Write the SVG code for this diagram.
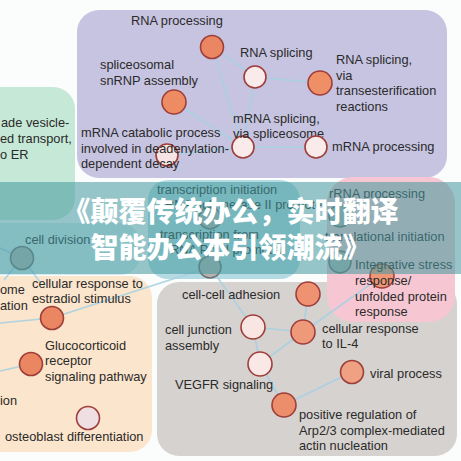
<svg xmlns="http://www.w3.org/2000/svg" width="461" height="461" viewBox="0 0 461 461">
<defs>
<style>
text{font-family:"Liberation Sans",Arial,sans-serif;font-size:12.8px;fill:#2a2a2a}
.edge{stroke:#a6d0e2;stroke-width:1.6;fill:none;opacity:0.9}
.nd{stroke:#9e3e3a;stroke-width:1.6}
.gy{fill:#b4b4b4;stroke:#727272;stroke-width:1.6}
.or{fill:#ea8662}
.sa{fill:#f0a083}
.lt{fill:#f8ebea}
.ban{font-family:"Noto Sans CJK SC","Noto Sans",sans-serif;font-size:28px;font-weight:900;fill:#ffffff}
</style>
</defs>
<rect width="461" height="461" fill="#fbfcfc"/>

<g id="clusters">
<rect id="cl-green" x="-25" y="87" width="100" height="133" rx="22" fill="#c6e8d6"/>
<rect id="cl-celldiv" x="-25" y="223" width="165" height="52" rx="20" fill="#d3eaf0"/>
<rect id="cl-purple" x="77" y="10" width="370" height="168" rx="22" fill="#c7c4e1"/>
<rect id="cl-trans" x="148" y="180" width="152" height="99" rx="20" fill="#b4dbe4"/>
<rect id="cl-peach" x="-25" y="276" width="177" height="176" rx="22" fill="#fbe5cc"/>
<rect id="cl-gray" x="157" y="282" width="300" height="174" rx="22" fill="#d6d2cf"/>
<rect id="cl-pink" x="327" y="177" width="128" height="145" rx="26" fill="#f6c7d2"/>
</g>

<g id="connectors">
<line class="edge" x1="212" y1="47" x2="255" y2="77"/>
<line class="edge" x1="255" y1="77" x2="320" y2="83"/>
<line class="edge" x1="255" y1="77" x2="243" y2="147"/>
<line class="edge" x1="243" y1="147" x2="316" y2="147"/>
<line class="edge" x1="174" y1="102" x2="243" y2="147"/>
<line class="edge" x1="167" y1="155" x2="243" y2="147"/>
<line class="edge" x1="212" y1="47" x2="243" y2="147"/>
<line class="edge" x1="0" y1="248" x2="22" y2="258"/>
<line class="edge" x1="22" y1="258" x2="4" y2="280"/>
<line class="edge" x1="22" y1="258" x2="40" y2="282"/>
<line class="edge" x1="0" y1="323" x2="52" y2="318"/>
<line class="edge" x1="52" y1="318" x2="210" y2="267"/>
<line class="edge" x1="0" y1="371" x2="31" y2="364"/>
<line class="edge" x1="210" y1="267" x2="253" y2="327"/>
<line class="edge" x1="253" y1="327" x2="260" y2="364"/>
<line class="edge" x1="253" y1="327" x2="303" y2="332"/>
<line class="edge" x1="308" y1="294" x2="303" y2="332"/>
<line class="edge" x1="260" y1="364" x2="303" y2="332"/>
<line class="edge" x1="303" y1="332" x2="382" y2="276"/>
<line class="edge" x1="260" y1="364" x2="284" y2="405"/>
<line class="edge" x1="284" y1="405" x2="352" y2="372"/>
</g>

<g id="n-rna-processing"><circle class="nd or" cx="212" cy="47" r="11.5"/><text x="131" y="25">RNA processing</text></g>
<g id="n-snrnp"><circle class="nd" cx="174" cy="102" r="12" fill="#ed8b62"/><text x="100" y="69">spliceosomal</text><text x="100" y="84.5">snRNP assembly</text></g>
<g id="n-mrna-catabolic"><circle class="nd" cx="167" cy="155" r="11" fill="#f6e3e3"/><text x="81" y="137">mRNA catabolic process</text><text x="81" y="152.5">involved in deadenylation-</text><text x="81" y="168">dependent decay</text></g>
<g id="n-rna-splicing"><circle class="nd lt" cx="255" cy="77" r="11"/><text x="240" y="57">RNA splicing</text></g>
<g id="n-rna-splicing-trans"><circle class="nd" cx="320" cy="83" r="12" fill="#ee8f66"/><text x="336" y="64">RNA splicing,</text><text x="336" y="79.5">via</text><text x="336" y="95">transesterification</text><text x="336" y="110.5">reactions</text></g>
<g id="n-mrna-splicing"><circle class="nd lt" cx="243" cy="147" r="11"/><text x="233" y="122.5">mRNA splicing,</text><text x="233" y="138">via spliceosome</text></g>
<g id="n-mrna-processing"><circle class="nd lt" cx="316" cy="147" r="11"/><text x="332" y="151">mRNA processing</text></g>

<g id="n-retrograde"><text x="1" y="127">ade vesicle-</text><text x="0" y="143">ed transport,</text><text x="0" y="158.5">o ER</text></g>

<g id="n-transcription-init"><circle class="gy" cx="210" cy="218" r="11"/><text x="157" y="193.5">transcription initiation</text><text x="165" y="209">RNA polymerase II promoter</text></g>
<g id="n-transcription-from"><circle class="gy" cx="210" cy="267" r="11"/><text x="160" y="238.5">transcription from</text><text x="170" y="254">RNA Pol II promoter</text></g>
<g id="n-cell-division"><circle class="gy" cx="22" cy="258" r="11.5"/><text x="25" y="243.5">cell division</text></g>

<g id="n-rrna"><circle class="gy" cx="340" cy="216" r="11"/><text x="329" y="197.5">rRNA processing</text></g>
<g id="n-translational"><circle class="gy" cx="340" cy="262" r="11"/><text x="325" y="241">translational initiation</text></g>
<g id="n-integrative"><circle class="nd" cx="382" cy="276" r="12" fill="#ee9877"/><text x="355" y="269">Integrative stress</text><text x="355" y="285">response/</text><text x="355" y="300.5">unfolded protein</text><text x="355" y="316">response</text></g>

<g id="n-left-peach"><text x="0" y="294">ome</text><text x="0" y="310">ation</text><text x="0" y="405">ion</text></g>
<g id="n-estradiol"><circle class="nd or" cx="52" cy="318" r="11.5"/><text x="32" y="287.5">cellular response to</text><text x="32" y="302.5">estradiol stimulus</text></g>
<g id="n-glucocorticoid"><circle class="nd or" cx="31" cy="364" r="11.5"/><text x="45" y="349.5">Glucocorticoid</text><text x="45" y="365">receptor</text><text x="45" y="380.5">signaling pathway</text></g>
<g id="n-osteoblast"><circle class="nd" cx="88" cy="418" r="11.5" fill="#efdfe3"/><text x="5" y="441">osteoblast differentiation</text></g>

<g id="n-cell-cell"><circle class="nd" cx="308" cy="294" r="12" fill="#ee9272"/><text x="182" y="298.5">cell-cell adhesion</text></g>
<g id="n-cell-junction"><circle class="nd" cx="253" cy="327" r="12" fill="#f9e6e3"/><text x="165" y="334">cell junction</text><text x="165" y="349.5">assembly</text></g>
<g id="n-il4"><circle class="nd" cx="303" cy="332" r="12" fill="#ee9a7a"/><text x="322" y="332.5">cellular response</text><text x="322" y="348">to IL-4</text></g>
<g id="n-vegfr"><circle class="nd" cx="260" cy="364" r="12" fill="#f9e8e5"/><text x="175" y="389">VEGFR signaling</text></g>
<g id="n-viral"><circle class="nd sa" cx="352" cy="372" r="11.5"/><text x="370" y="378">viral process</text></g>
<g id="n-arp"><circle class="nd" cx="284" cy="405" r="12" fill="#ec8e6c"/><text x="299" y="419">positive regulation of</text><text x="299" y="434.5">Arp2/3 complex-mediated</text><text x="299" y="450">actin nucleation</text></g>

<g id="banner">
<rect x="0" y="182" width="461" height="92" fill="#45999f" opacity="0.56"/>
<text class="ban" x="230.5" y="222" text-anchor="middle">《颠覆传统办公，实时翻译</text>
<text class="ban" x="230.5" y="258" text-anchor="middle">智能办公本引领潮流》</text>
</g>
</svg>
